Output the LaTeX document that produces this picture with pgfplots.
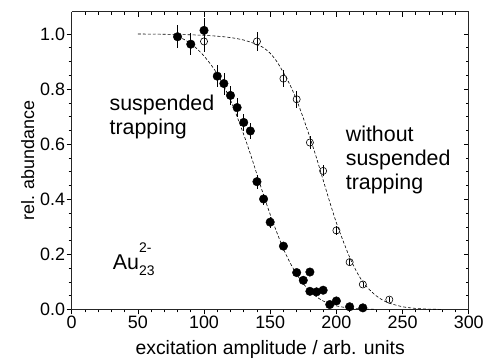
\documentclass[border=0pt]{standalone}
\usepackage{pgfplots}
\pgfplotsset{compat=1.18}
\usepackage{fontspec}
\setmainfont{Liberation Sans}
\begin{document}
\begin{tikzpicture}
\pgfplotsset{
  common/.style={
    scale only axis, width=399pt, height=299pt,
    xmin=0, xmax=300, ymin=0, ymax=1.08,
    xtick={0,50,...,300}, ytick={0,0.2,...,1.0},
    minor x tick num=4, minor y tick num=3,
    major tick length=5pt, minor tick length=3pt,
    every tick/.style={black, line width=0.6pt},
    axis line style={line width=0.9pt, black!85},
  }
}
\begin{axis}[common,
  axis x line*=top, axis y line*=right,
  tick align=inside, xticklabels={}, yticklabels={},
]
\end{axis}
\begin{axis}[common,
  axis x line*=bottom, axis y line*=left,
  tick align=outside,
  /pgf/number format/assume math mode=true,
  ticklabel style={font=\fontsize{18}{20}\selectfont},
  xticklabel style={yshift=2pt},
  yticklabel style={/pgf/number format/fixed, /pgf/number format/fixed zerofill, /pgf/number format/precision=1, xshift=2pt},
  xlabel={excitation amplitude / arb. units},
  ylabel={rel. abundance},
  xlabel style={font=\fontsize{19.5}{21}\selectfont, yshift=-5pt},
  ylabel style={font=\fontsize{18}{20}\selectfont, yshift=-1pt},
  clip=false,
]
% fit curves
\addplot[black, line width=0.6pt, dash pattern=on 3pt off 2pt, smooth] coordinates {
(80,0.99)(85,0.98)(90,0.965)(95,0.945)(100,0.92)(105,0.89)(110,0.855)(115,0.81)(120,0.76)(125,0.70)(130,0.635)(135,0.565)(140,0.49)(145,0.415)(150,0.345)(155,0.28)(160,0.22)(165,0.17)(170,0.128)(175,0.094)(180,0.067)(185,0.046)(190,0.031)(195,0.02)(200,0.013)(210,0.005)(220,0.002)(230,0.0005)};
\addplot[black, line width=0.6pt, dash pattern=on 3pt off 2pt, smooth] coordinates {
(50,1.0)(60,0.9995)(70,0.999)(80,0.998)(90,0.997)(100,0.995)(110,0.992)(120,0.987)(130,0.978)(140,0.962)(145,0.95)(150,0.93)(155,0.90)(160,0.86)(165,0.815)(170,0.76)(175,0.695)(180,0.625)(185,0.55)(190,0.47)(195,0.39)(200,0.315)(205,0.25)(210,0.19)(215,0.14)(220,0.10)(225,0.072)(230,0.05)(235,0.034)(240,0.023)(250,0.01)(260,0.004)(270,0.0015)(280,0.0005)};
% suspended trapping (filled)
\addplot[only marks, mark=*, mark size=4.3pt, black,
  error bars/.cd, y dir=both, y explicit, error bar style={line width=0.6pt}, error mark=none]
  table[x=x, y=y, y error=e] {
x y e
80 0.99 0.042
90 0.963 0.04
100 1.013 0.045
110 0.847 0.04
115 0.82 0.04
120 0.777 0.035
125 0.733 0.035
130 0.679 0.03
135 0.648 0.03
140 0.464 0.025
145 0.401 0.02
150 0.317 0.02
160 0.23 0.015
170 0.134 0.01
175 0.106 0.01
180 0.136 0.01
180 0.066 0.01
185 0.064 0.01
190 0.070 0.01
195 0.018 0.005
200 0.031 0.005
210 0.010 0.005
220 0.006 0.005
};
% without suspended trapping (open)
\addplot[only marks, mark=o, mark size=3.6pt, black, mark options={line width=0.6pt, fill=white},
  error bars/.cd, y dir=both, y explicit, error bar style={line width=0.6pt}, error mark=none]
  table[x=x, y=y, y error=e] {
x y e
100 0.973 0.04
140 0.973 0.035
160 0.838 0.03
170 0.763 0.03
180 0.606 0.025
190 0.503 0.02
200 0.287 0.015
210 0.172 0.01
220 0.091 0.01
240 0.036 0.01
};
\node[anchor=north west, align=left, font=\fontsize{21.5}{24}\selectfont, inner sep=0pt] at (axis cs:28.5,0.78) {suspended\\trapping};
\node[anchor=north west, align=left, font=\fontsize{21.5}{24}\selectfont, inner sep=0pt] at (axis cs:207,0.665) {without\\suspended\\trapping};
\node[anchor=base west, font=\fontsize{21.5}{24}\selectfont, inner sep=0pt] at (axis cs:31,0.146) {Au\makebox[0pt][l]{\raisebox{17pt}{\fontsize{14}{14}\selectfont 2-}}\raisebox{-6pt}{\fontsize{14}{14}\selectfont 23}};
\end{axis}
\path ([shift={(-72pt,-51pt)}]current axis.south west) rectangle ([shift={(16pt,12pt)}]current axis.north east);
\end{tikzpicture}
\end{document}
